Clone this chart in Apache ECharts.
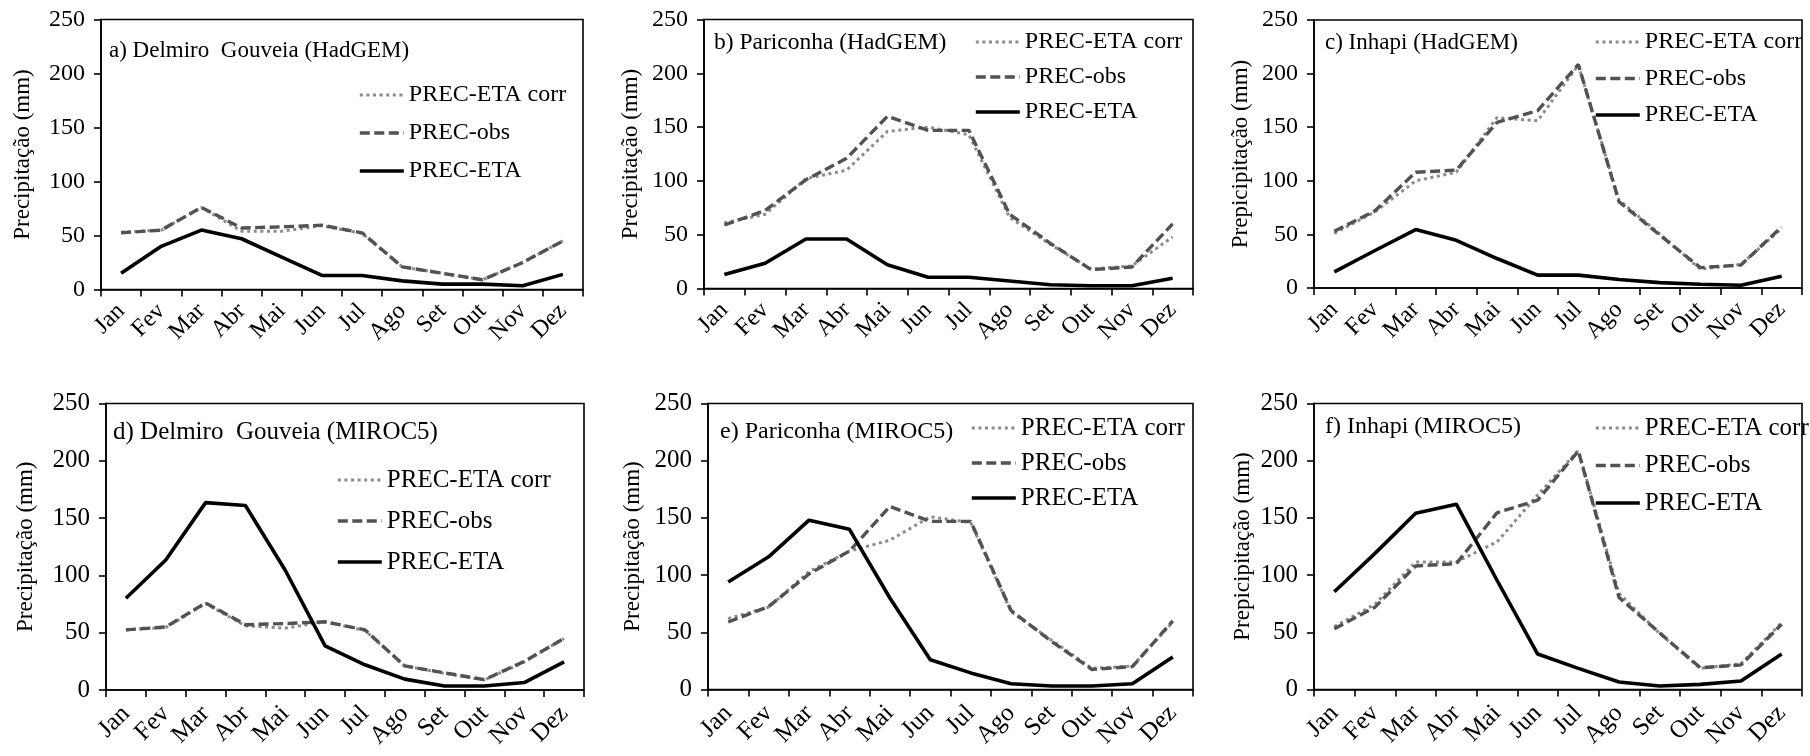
<!DOCTYPE html>
<html>
<head>
<meta charset="utf-8">
<title>Precipitação mensal</title>
<script src="https://cdn.jsdelivr.net/npm/echarts@6/dist/echarts.min.js"></script>
<style>
  html, body { margin: 0; padding: 0; background: #fff; }
  #chart { width: 1810px; height: 756px; }
</style>
</head>
<body>
<div id="chart"></div>
<script>
// Month tick labels
const months = ['Jan', 'Fev', 'Mar', 'Abr', 'Mai', 'Jun', 'Jul', 'Ago', 'Set', 'Out', 'Nov', 'Dez'];

// Observed precipitation per station (mm)
const delmiroObs   = [52.5, 55, 76, 57, 58, 59.5, 52.5, 21, 15, 9, 25, 45];
const pariconhaObs = [59, 72.5, 101, 121, 160, 147, 147, 69, 42, 17.5, 20, 60];
const inhapiObs    = [53, 72, 108, 110, 154.5, 165.5, 208.5, 80.5, 49.5, 19, 21.5, 57];

// Eta model, HadGEM driven (mm)
const delmiroHadEta    = [15, 40, 55, 47, 30, 13, 13, 8, 5, 5, 3.5, 14];
const delmiroHadCorr   = [53, 55, 76, 54, 54, 59, 52, 21, 15, 9, 25, 45];
const pariconhaHadEta  = [13, 23.5, 46, 46, 22, 10.5, 10.5, 7, 3.5, 2.5, 2.5, 9.5];
const pariconhaHadCorr = [61, 69, 102, 110, 146, 150, 143, 66, 41, 18, 21, 48];
const inhapiHadEta     = [15, 35, 54.5, 44.5, 27.5, 12, 12, 8, 5, 3.5, 2.5, 11];
const inhapiHadCorr    = [51, 71, 100, 108, 159, 156, 208, 82, 50.5, 17.5, 22, 55.5];

// Eta model, MIROC5 driven (mm)
const delmiroMirEta    = [80, 113.5, 163.5, 161, 104.5, 38.5, 22, 9.5, 3.5, 3.5, 6.5, 24.5];
const delmiroMirCorr   = [52.5, 54.5, 75.5, 56, 54, 59.5, 52, 21, 14.5, 8.7, 24.5, 45];
const pariconhaMirEta  = [94, 116, 148, 140, 80, 26, 14.5, 5, 3, 3, 5, 28.5];
const pariconhaMirCorr = [62, 72, 103, 121, 130.5, 151, 146, 68, 43, 18.5, 20.5, 59];
const inhapiMirEta     = [85.5, 119, 154, 162, 95.5, 31, 18.5, 6.5, 3, 4.5, 7.5, 31];
const inhapiMirCorr    = [55, 74.5, 111.5, 111.5, 129, 170, 209, 84, 49, 18.5, 22.5, 58.5];

// Series names
const NAME_CORR = 'PREC-ETA corr';
const NAME_OBS  = 'PREC-obs';
const NAME_ETA  = 'PREC-ETA';

// Panel contents
const panels = [
  { title: 'a) Delmiro  Gouveia (HadGEM)', yName: 'Precipitação (mm)',   corr: delmiroHadCorr,   obs: delmiroObs,   eta: delmiroHadEta },
  { title: 'b) Pariconha (HadGEM)',        yName: 'Precipitação (mm)',   corr: pariconhaHadCorr, obs: pariconhaObs, eta: pariconhaHadEta },
  { title: 'c) Inhapi (HadGEM)',           yName: 'Prepicipitação (mm)', corr: inhapiHadCorr,    obs: inhapiObs,    eta: inhapiHadEta },
  { title: 'd) Delmiro  Gouveia (MIROC5)', yName: 'Precipitação (mm)',   corr: delmiroMirCorr,   obs: delmiroObs,   eta: delmiroMirEta },
  { title: 'e) Pariconha (MIROC5)',        yName: 'Precipitação (mm)',   corr: pariconhaMirCorr, obs: pariconhaObs, eta: pariconhaMirEta },
  { title: 'f) Inhapi (MIROC5)',           yName: 'Prepicipitação (mm)', corr: inhapiMirCorr,    obs: inhapiObs,    eta: inhapiMirEta }
];

// Panel geometry (px) and type sizes
const layout = [
  { grid: [101, 19.5, 482, 270], nameGap: 67, titlePos: [109, 39],  titleFs: 23, legendPos: [358, 83],   legendGap: 14,   fs: 22, tickFs: 24, monthMargin: 18 },
  { grid: [704, 19.5, 489, 269], nameGap: 62, titlePos: [714, 31],  titleFs: 23.5, legendPos: [974, 30],   legendGap: 11,   fs: 22, tickFs: 24, monthMargin: 18 },
  { grid: [1314, 20, 488, 268],  nameGap: 62, titlePos: [1325, 31], titleFs: 23, legendPos: [1594, 30],  legendGap: 12.5, fs: 22, tickFs: 24, monthMargin: 18 },
  { grid: [106, 403.5, 478, 286.5], nameGap: 69, titlePos: [113, 420], titleFs: 25, legendPos: [336, 467.5], legendGap: 16, fs: 23, tickFs: 25, monthMargin: 20 },
  { grid: [708, 403.5, 485, 286],   nameGap: 64, titlePos: [720, 420], titleFs: 24, legendPos: [970, 415.5], legendGap: 10, fs: 23, tickFs: 25, monthMargin: 20 },
  { grid: [1314, 403.5, 488, 286],  nameGap: 60, titlePos: [1325, 415], titleFs: 24, legendPos: [1594, 415.5], legendGap: 12.5, fs: 23, tickFs: 25, monthMargin: 20 }
];

const FONT = '"Liberation Serif", "Times New Roman", serif';
const axisColor = '#000';

// Line styles for the three series
const styleCorr = { color: '#8a8a8a', width: 3,   type: [3, 3.6], cap: 'butt' };
const styleObs  = { color: '#525252', width: 3.4, type: [10, 4.5], cap: 'butt' };
const styleEta  = { color: '#000',    width: 3.6, type: 'solid' };

const option = {
  animation: false,
  backgroundColor: '#fff',
  title: [], legend: [], grid: [], xAxis: [], yAxis: [], series: []
};

panels.forEach((p, i) => {
  const L = layout[i];
  const [gl, gt, gw, gh] = L.grid;

  option.grid.push({
    left: gl, top: gt, width: gw, height: gh,
    show: true, borderColor: axisColor, borderWidth: 1.6,
    outerBoundsMode: 'none', containLabel: false
  });

  option.title.push({
    text: p.title, left: L.titlePos[0], top: L.titlePos[1], padding: 0,
    textStyle: { fontFamily: FONT, fontSize: L.titleFs, fontWeight: 'normal', color: '#000', lineHeight: L.titleFs }
  });

  // Legend shows only the line sample, without a marker
  option.legend.push({
    data: [
      { name: NAME_CORR, lineStyle: { width: styleCorr.width } },
      { name: NAME_OBS,  lineStyle: { width: styleObs.width } },
      { name: NAME_ETA,  lineStyle: { width: styleEta.width } }
    ],
    orient: 'vertical', left: L.legendPos[0], top: L.legendPos[1], padding: 0,
    itemWidth: 44, itemHeight: 14, itemGap: L.legendGap,
    lineStyle: { width: 3.4 },
    itemStyle: { color: 'rgba(0,0,0,0)', borderColor: 'rgba(0,0,0,0)', borderWidth: 0, opacity: 0 },
    textStyle: { fontFamily: FONT, fontSize: L.fs + 2, color: '#000', lineHeight: L.fs + 2 }
  });

  option.xAxis.push({
    type: 'category', gridIndex: i, data: months, boundaryGap: true,
    axisLine: { show: true, lineStyle: { color: axisColor, width: 1.6 } },
    axisTick: { show: true, inside: false, length: 7, lineStyle: { color: axisColor, width: 1.6 } },
    axisLabel: { interval: 0, rotate: 45, margin: L.monthMargin, fontFamily: FONT, fontSize: L.tickFs, color: '#000' },
    splitLine: { show: false }
  });

  option.yAxis.push({
    type: 'value', gridIndex: i, min: 0, max: 250, interval: 50,
    name: p.yName, nameLocation: 'middle', nameRotate: 90, nameGap: L.nameGap,
    nameTextStyle: { fontFamily: FONT, fontSize: 23, color: '#000' },
    axisLine: { show: true, lineStyle: { color: axisColor, width: 1.6 } },
    axisTick: { show: true, inside: false, length: 7, lineStyle: { color: axisColor, width: 1.6 } },
    axisLabel: { margin: 16, fontFamily: FONT, fontSize: L.tickFs, color: '#000' },
    splitLine: { show: false }
  });

  const common = { type: 'line', xAxisIndex: i, yAxisIndex: i, symbol: 'none', showSymbol: false, smooth: false };
  option.series.push(
    Object.assign({}, common, { name: NAME_CORR, data: p.corr, z: 3, lineStyle: styleCorr, itemStyle: { color: styleCorr.color } }),
    Object.assign({}, common, { name: NAME_OBS,  data: p.obs,  z: 4, lineStyle: styleObs,  itemStyle: { color: styleObs.color } }),
    Object.assign({}, common, { name: NAME_ETA,  data: p.eta,  z: 5, lineStyle: styleEta,  itemStyle: { color: styleEta.color } })
  );
});

const chart = echarts.init(document.getElementById('chart'), null, { renderer: 'canvas' });
chart.setOption(option);
</script>
</body>
</html>
